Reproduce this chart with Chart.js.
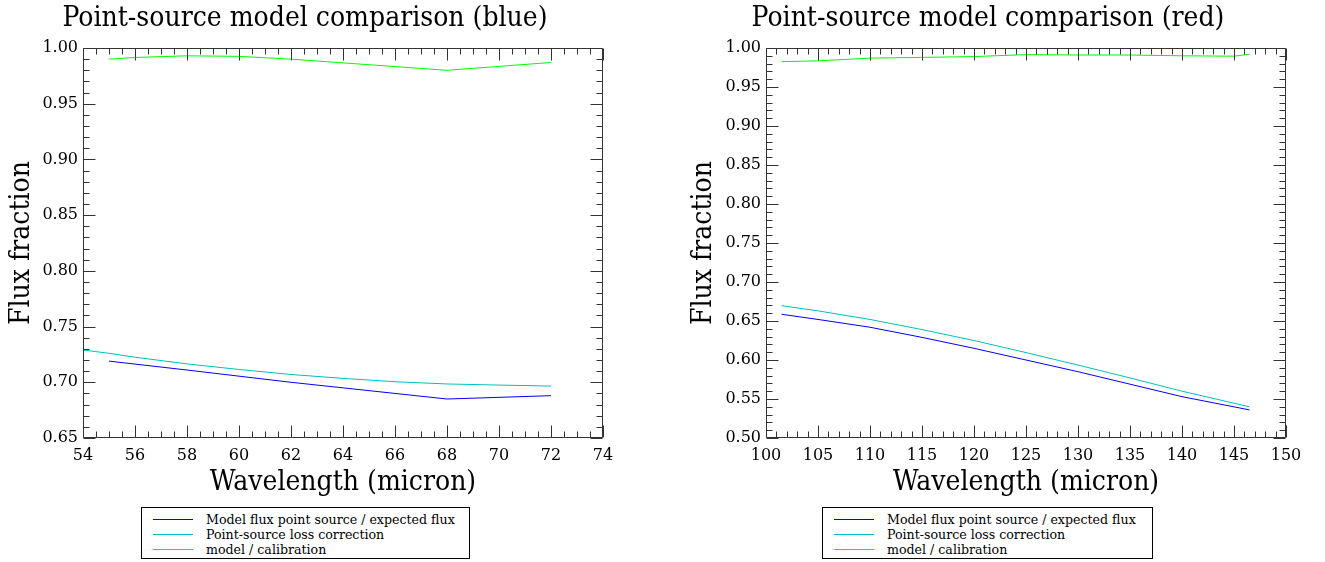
<!DOCTYPE html>
<html>
<head>
<meta charset="utf-8">
<script src="https://cdn.jsdelivr.net/npm/chart.js@4.4.1/dist/chart.umd.min.js"></script>
<style>
  html, body { margin: 0; padding: 0; background: #fff; }
  body { width: 1325px; height: 562px; position: relative; overflow: hidden; font-family: "DejaVu Serif", serif; }
  canvas { position: absolute; top: 0; }
  .title { position: absolute; top: 0; width: 600px; text-align: center; font-family: "DejaVu Serif Condensed", "DejaVu Serif", serif; font-size: 28px; line-height: 34px; color: #000; white-space: nowrap; }
  .legend { position: absolute; top: 507px; border: 1px solid #000; box-sizing: content-box; font-size: 12.6px; color: #000; padding-top: 4px; height: 46px; }
  .row { height: 15px; line-height: 15px; display: flex; align-items: center; white-space: nowrap; }
  .sw { width: 40px; height: 0; border-top: 1px solid; margin-left: 11px; margin-right: 13px; }
</style>
</head>
<body>
<canvas id="cBlue" width="662" height="500" style="left:0px;width:662px;height:500px"></canvas>
<canvas id="cRed" width="663" height="500" style="left:662px;width:663px;height:500px"></canvas>
<div class="title" style="left:5px">Point-source model comparison (blue)</div>
<div class="title" style="left:688px">Point-source model comparison (red)</div>
<div class="legend" id="legBlue" style="left:141px;width:327px"></div>
<div class="legend" id="legRed" style="left:822px;width:329px"></div>
<script>
// ---- data ----
const seriesNames = ["Model flux point source / expected flux", "Point-source loss correction", "model / calibration"];
const seriesColors = ["#0000ff", "#00bfbf", "#00ff00"];

// blue band (54-74 micron)
const blueWlModel = [55, 58, 60, 62, 64, 68, 72];
const blueModelFlux = [0.719, 0.711, 0.7055, 0.700, 0.695, 0.685, 0.688];
const blueWlLoss = [54, 55, 56, 58, 60, 62, 64, 66, 68, 70, 72];
const blueLossCorr = [0.729, 0.726, 0.7225, 0.7165, 0.7115, 0.707, 0.7035, 0.7005, 0.6985, 0.6975, 0.6966];
const blueWlCal = [55, 56, 58, 60, 62, 68, 72];
const blueModelCal = [0.990, 0.9915, 0.993, 0.9925, 0.990, 0.980, 0.987];

// red band (100-150 micron)
const redWl = [101.5, 105, 110, 115, 120, 125, 130, 135, 140, 146.5];
const redModelFlux = [0.6586, 0.652, 0.642, 0.629, 0.615, 0.600, 0.585, 0.569, 0.553, 0.536];
const redLossCorr = [0.6696, 0.663, 0.652, 0.639, 0.625, 0.6095, 0.5935, 0.577, 0.560, 0.540];
const redWlCal = [101.5, 105, 110, 115, 120, 125, 130, 135, 140, 145, 146.5];
const redModelCal = [0.9825, 0.9835, 0.987, 0.988, 0.989, 0.9915, 0.991, 0.991, 0.990, 0.9895, 0.992];

// axis ranges / tick steps
const blueX = { min: 54, max: 74, step: 2, minor: 0.5 };
const blueY = { min: 0.65, max: 1.00, step: 0.05, minor: 0.01 };
const redX = { min: 100, max: 150, step: 5, minor: 1 };
const redY = { min: 0.50, max: 1.00, step: 0.05, minor: 0.01 };

function pts(xs, ys) { return xs.map((x, i) => ({ x: x, y: ys[i] })); }

const frameTicks = {
  id: 'frameTicks',
  afterDraw(chart, args, opts) {
    const ctx = chart.ctx, a = chart.chartArea;
    const xs = chart.scales.x, ys = chart.scales.y;
    ctx.save();
    ctx.strokeStyle = '#333';
    ctx.lineWidth = 1;
    ctx.beginPath();
    const L = Math.round(a.left) + 0.5, R = Math.round(a.right) - 0.5;
    const T = Math.round(a.top) + 0.5, B = Math.round(a.bottom) - 0.5;
    ctx.rect(L, T, R - L, B - T);
    ctx.stroke();
    const MAJ = 12, MIN = 6;
    ctx.beginPath();
    const nx = Math.round((opts.x.max - opts.x.min) / opts.x.minor);
    const perX = Math.round(opts.x.step / opts.x.minor);
    for (let i = 0; i <= nx; i++) {
      const v = opts.x.min + i * opts.x.minor;
      const px = Math.round(xs.getPixelForValue(v)) + 0.5;
      const len = (i % perX === 0) ? MAJ : MIN;
      ctx.moveTo(px, B); ctx.lineTo(px, B - len);
      ctx.moveTo(px, T); ctx.lineTo(px, T + len);
    }
    const ny = Math.round((opts.y.max - opts.y.min) / opts.y.minor);
    const perY = Math.round(opts.y.step / opts.y.minor);
    for (let i = 0; i <= ny; i++) {
      const v = opts.y.min + i * opts.y.minor;
      const py = Math.round(ys.getPixelForValue(v)) + 0.5;
      const len = (i % perY === 0) ? MAJ : MIN;
      ctx.moveTo(L, py); ctx.lineTo(L + len, py);
      ctx.moveTo(R, py); ctx.lineTo(R - len, py);
    }
    ctx.stroke();
    ctx.restore();
  }
};

const titleFamily = "'DejaVu Serif Condensed', 'DejaVu Serif', serif";

function makeChart(id, datasets, xr, yr, yAxisWidth, rightPad, yTitlePad) {
  const font = { family: "'DejaVu Serif', serif", size: 16 };
  return new Chart(document.getElementById(id), {
    type: 'line',
    data: {
      datasets: datasets.map((d, i) => ({
        label: seriesNames[i],
        data: d,
        borderColor: seriesColors[i],
        backgroundColor: seriesColors[i],
        borderWidth: 1,
        pointRadius: 0,
        tension: 0,
        fill: false
      }))
    },
    options: {
      responsive: false,
      animation: false,
      events: [],
      layout: { padding: { top: 48, right: rightPad, left: 0, bottom: 0 } },
      plugins: {
        legend: { display: false },
        title: { display: false },
        tooltip: { enabled: false },
        frameTicks: { x: xr, y: yr }
      },
      scales: {
        x: {
          type: 'linear', min: xr.min, max: xr.max,
          grid: { display: false, drawTicks: false },
          border: { display: false },
          ticks: { stepSize: xr.step, font: font, color: '#000', padding: 8, maxRotation: 0, autoSkip: false,
                   callback: v => String(v) },
          title: { display: true, text: 'Wavelength (micron)', color: '#000',
                   font: { family: titleFamily, size: 28, lineHeight: 1.0 }, padding: { top: 0, bottom: 3 } },
          afterFit: s => { s.height = 62; }
        },
        y: {
          type: 'linear', min: yr.min, max: yr.max,
          grid: { display: false, drawTicks: false },
          border: { display: false },
          ticks: { stepSize: yr.step, font: font, color: '#000', padding: 5, autoSkip: false,
                   callback: v => v.toFixed(2) },
          title: { display: true, text: 'Flux fraction', color: '#000',
                   font: { family: titleFamily, size: 28, lineHeight: 1.0 }, padding: { top: yTitlePad, bottom: 0 } },
          afterFit: s => { s.width = yAxisWidth; }
        }
      }
    },
    plugins: [frameTicks]
  });
}

makeChart('cBlue', [pts(blueWlModel, blueModelFlux), pts(blueWlLoss, blueLossCorr), pts(blueWlCal, blueModelCal)],
          blueX, blueY, 83, 59, 8);
makeChart('cRed', [pts(redWl, redModelFlux), pts(redWl, redLossCorr), pts(redWlCal, redModelCal)],
          redX, redY, 104, 39, 28);

function buildLegend(elId) {
  const el = document.getElementById(elId);
  seriesNames.forEach((n, i) => {
    const r = document.createElement('div');
    r.className = 'row';
    const s = document.createElement('span');
    s.className = 'sw';
    s.style.borderTopColor = seriesColors[i];
    const t = document.createElement('span');
    t.textContent = n;
    r.appendChild(s); r.appendChild(t);
    el.appendChild(r);
  });
}
buildLegend('legBlue');
buildLegend('legRed');
</script>
</body>
</html>
